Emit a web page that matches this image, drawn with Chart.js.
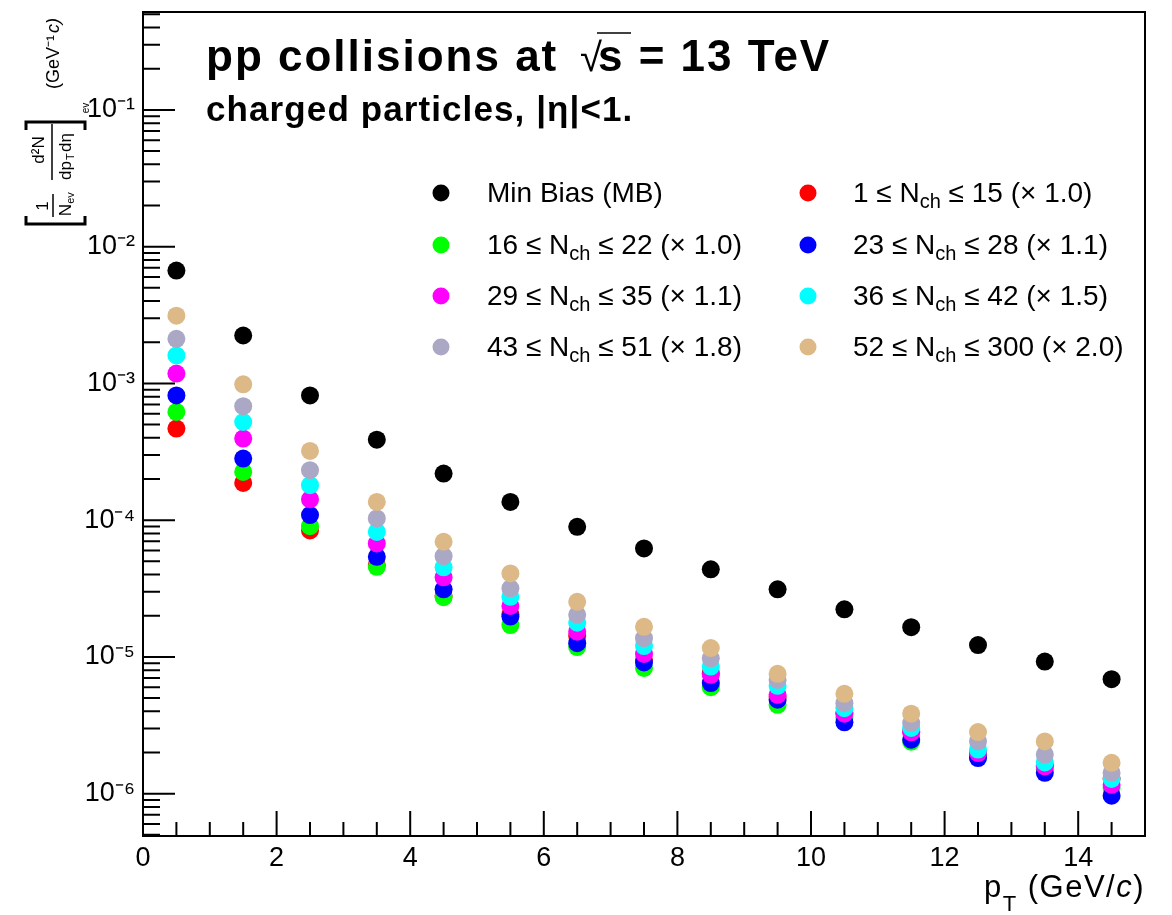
<!DOCTYPE html>
<html>
<head>
<meta charset="utf-8">
<script src="https://cdn.jsdelivr.net/npm/chart.js@4.4.1/dist/chart.umd.min.js"></script>
<style>
  html, body { margin: 0; padding: 0; background: #fff; }
  #wrap { width: 1172px; height: 915px; }
</style>
</head>
<body>
<div id="wrap"><canvas id="spectra" width="1172" height="915"></canvas></div>
<script>
// pT bin centres (GeV/c)
const pt = [0.5, 1.5, 2.5, 3.5, 4.5, 5.5, 6.5, 7.5, 8.5, 9.5, 10.5, 11.5, 12.5, 13.5, 14.5];

// yields (already multiplied by the scale factor in the legend)
const minBias = [6.68e-3, 2.24e-3, 8.17e-4, 3.88e-4, 2.19e-4, 1.36e-4, 8.93e-5, 6.21e-5, 4.37e-5, 3.12e-5, 2.23e-5, 1.65e-5, 1.22e-5, 9.25e-6, 6.87e-6];
const nch1to15 = [4.67e-4, 1.87e-4, 8.4e-5, 4.7e-5, 2.8e-5, 2.05e-5, 1.42e-5, 9.5e-6, 7.6e-6, 5.1e-6, 3.9e-6, 2.85e-6, 1.9e-6, 1.6e-6, 1.29e-6];
const nch16to22 = [6.18e-4, 2.25e-4, 9.03e-5, 4.56e-5, 2.73e-5, 1.71e-5, 1.18e-5, 8.3e-6, 6.0e-6, 4.46e-6, 3.6e-6, 2.4e-6, 1.85e-6, 1.5e-6, 1.1e-6];
const nch23to28 = [8.17e-4, 2.82e-4, 1.09e-4, 5.39e-5, 3.12e-5, 1.97e-5, 1.26e-5, 9.1e-6, 6.43e-6, 4.86e-6, 3.32e-6, 2.48e-6, 1.82e-6, 1.42e-6, 9.66e-7];
const nch29to35 = [1.18e-3, 3.95e-4, 1.42e-4, 6.76e-5, 3.82e-5, 2.36e-5, 1.53e-5, 1.05e-5, 7.39e-6, 5.28e-6, 3.84e-6, 2.81e-6, 1.98e-6, 1.58e-6, 1.16e-6];
const nch36to42 = [1.60e-3, 5.22e-4, 1.80e-4, 8.2e-5, 4.52e-5, 2.75e-5, 1.78e-5, 1.20e-5, 8.49e-6, 6.14e-6, 4.22e-6, 3.02e-6, 2.10e-6, 1.69e-6, 1.28e-6];
const nch43to51 = [2.12e-3, 6.82e-4, 2.32e-4, 1.03e-4, 5.45e-5, 3.17e-5, 2.03e-5, 1.37e-5, 9.77e-6, 6.79e-6, 4.59e-6, 3.28e-6, 2.41e-6, 1.93e-6, 1.42e-6];
const nch52to300 = [3.13e-3, 9.84e-4, 3.21e-4, 1.36e-4, 6.95e-5, 4.08e-5, 2.53e-5, 1.66e-5, 1.16e-5, 7.52e-6, 5.37e-6, 3.84e-6, 2.82e-6, 2.41e-6, 1.68e-6];

const seriesLabels = [
    'Min Bias (MB)',
    '1 ≤ N_{ch} ≤ 15 (× 1.0)',
    '16 ≤ N_{ch} ≤ 22 (× 1.0)',
    '23 ≤ N_{ch} ≤ 28 (× 1.1)',
    '29 ≤ N_{ch} ≤ 35 (× 1.1)',
    '36 ≤ N_{ch} ≤ 42 (× 1.5)',
    '43 ≤ N_{ch} ≤ 51 (× 1.8)',
    '52 ≤ N_{ch} ≤ 300 (× 2.0)'
];
const seriesValues = [minBias, nch1to15, nch16to22, nch23to28, nch29to35, nch36to42, nch43to51, nch52to300];
const seriesColors = ['#000000', '#ff0000', '#00ff00', '#0000ff', '#ff00ff', '#00ffff', '#aaa8c4', '#dcb986'];
// draw order: black on top, then tan, gray, cyan ... red at the bottom
const seriesOrder = [0, 7, 6, 5, 4, 3, 2, 1];

// axis ranges / ticks
const xMin = 0, xMax = 15, xStep = 0.5;
const yMin = 4.9e-7, yMax = 0.52;
const decades = [-7, -6, -5, -4, -3, -2, -1];

const FONT = '"Liberation Sans", Arial, Helvetica, sans-serif';
const SUP = { '-': '⁻', '0': '⁰', '1': '¹', '2': '²', '3': '³', '4': '⁴', '5': '⁵', '6': '⁶', '7': '⁷', '8': '⁸', '9': '⁹' };
const toSup = s => String(s).split('').map(c => SUP[c] || c).join('');

// text with _{sub} parts
function richText(ctx, str, x, y, size) {
    const parts = str.split(/(_\{[^}]*\})/).filter(p => p.length);
    let cx = x;
    parts.forEach(p => {
        if (p.startsWith('_{')) {
            const t = p.slice(2, -1);
            ctx.font = `${Math.round(size * 0.72)}px ${FONT}`;
            ctx.fillText(t, cx, y + size * 0.3);
            cx += ctx.measureText(t).width;
        } else {
            ctx.font = `${size}px ${FONT}`;
            ctx.fillText(p, cx, y);
            cx += ctx.measureText(p).width;
        }
    });
    return cx - x;
}

const rootStyle = {
    id: 'rootStyle',
    beforeDraw(chart) {
        const ctx = chart.ctx;
        ctx.save();
        ctx.fillStyle = '#ffffff';
        ctx.fillRect(0, 0, chart.width, chart.height);
        ctx.restore();
    },
    afterDraw(chart) {
        const ctx = chart.ctx;
        const a = chart.chartArea;
        const xs = chart.scales.x, ys = chart.scales.y;
        ctx.save();
        ctx.strokeStyle = '#000';
        ctx.fillStyle = '#000';
        ctx.lineWidth = 2;

        // frame
        ctx.strokeRect(a.left, a.top, a.right - a.left, a.bottom - a.top);

        // inward ticks
        ctx.beginPath();
        xs.ticks.forEach(t => {
            const px = xs.getPixelForValue(t.value);
            const len = (t.value % 2 === 0) ? 25 : 14;
            ctx.moveTo(px, a.bottom);
            ctx.lineTo(px, a.bottom - len);
        });
        ys.ticks.forEach(t => {
            const py = ys.getPixelForValue(t.value);
            const len = t.major ? 32 : 17;
            ctx.moveTo(a.left, py);
            ctx.lineTo(a.left + len, py);
        });
        ctx.stroke();

        // title
        ctx.textBaseline = 'alphabetic';
        ctx.textAlign = 'left';
        ctx.letterSpacing = '2px';
        ctx.font = `bold 44px ${FONT}`;
        ctx.fillText('pp collisions at', 206, 71);
        ctx.letterSpacing = '0px';
        ctx.font = `40px ${FONT}`;
        ctx.fillText('√', 580, 71);
        ctx.letterSpacing = '2px';
        ctx.font = `bold 44px ${FONT}`;
        ctx.fillText('s = 13 TeV', 598, 71);
        ctx.beginPath();
        ctx.lineWidth = 1.5;
        ctx.moveTo(597, 33);
        ctx.lineTo(631, 33);
        ctx.stroke();

        ctx.letterSpacing = '1.1px';
        ctx.font = `bold 35px ${FONT}`;
        ctx.fillText('charged particles, |η|<1.', 206, 121);
        ctx.letterSpacing = '0px';

        // legend, two columns
        const colMarker = [441, 808], colText = [487, 853];
        const rowY = [193, 245, 296, 347];
        ctx.textBaseline = 'middle';
        seriesLabels.forEach((lab, i) => {
            const col = i % 2, row = Math.floor(i / 2);
            ctx.fillStyle = seriesColors[i];
            ctx.beginPath();
            ctx.arc(colMarker[col], rowY[row], 8.5, 0, Math.PI * 2);
            ctx.fill();
            ctx.fillStyle = '#000';
            richText(ctx, lab, colText[col], rowY[row] + 1, 28);
        });

        // x title, right aligned with frame
        ctx.textBaseline = 'alphabetic';
        ctx.letterSpacing = '1.5px';
        const big = `31px ${FONT}`, small = `22px ${FONT}`, ital = `italic 31px ${FONT}`;
        const pieces = [['p', big, 0], ['T', small, 14], [' (GeV/', big, 0], ['c', ital, 0], [')', big, 0]];
        let total = 0;
        pieces.forEach(p => { ctx.font = p[1]; total += ctx.measureText(p[0]).width; });
        let x0 = a.right - total;
        pieces.forEach(p => {
            ctx.font = p[1];
            ctx.fillText(p[0], x0, 897 + p[2]);
            x0 += ctx.measureText(p[0]).width;
        });
        ctx.letterSpacing = '0px';

        // y title, rotated (reads bottom to top)
        ctx.save();
        ctx.rotate(-Math.PI / 2);
        ctx.textAlign = 'center';
        ctx.textBaseline = 'middle';
        const rt = (s, sx, sy, f) => { ctx.font = f; ctx.fillText(s, -sy, sx); };
        // brackets
        ctx.lineWidth = 3;
        ctx.beginPath();
        ctx.moveTo(-216, 26); ctx.lineTo(-224, 26); ctx.lineTo(-224, 85); ctx.lineTo(-216, 85);
        ctx.moveTo(-130, 26); ctx.lineTo(-122, 26); ctx.lineTo(-122, 85); ctx.lineTo(-130, 85);
        ctx.stroke();
        // 1 / N_ev
        rt('1', 43, 206, `17px ${FONT}`);
        ctx.lineWidth = 1.5;
        ctx.beginPath();
        ctx.moveTo(-194, 53); ctx.lineTo(-217, 53);
        ctx.stroke();
        rt('N', 66, 210, `17px ${FONT}`);
        rt('ev', 71, 198, `11px ${FONT}`);
        // d2N / dpT deta
        rt('d²N', 39, 150, `17px ${FONT}`);
        ctx.beginPath();
        ctx.moveTo(-124, 52); ctx.lineTo(-180, 52);
        ctx.stroke();
        ctx.textAlign = 'left';
        rt('dp', 66, 180, `17px ${FONT}`);
        rt('T', 71, 160, `11px ${FONT}`);
        rt('dη', 66, 152, `17px ${FONT}`);
        ctx.textAlign = 'center';
        rt('ev', 86, 108, `10px ${FONT}`);
        rt('(GeV⁻¹', 54, 62, `18px ${FONT}`);
        ctx.textAlign = 'left';
        rt('c)', 54, 33, `italic 18px ${FONT}`);
        ctx.restore();

        ctx.restore();
    }
};

const datasets = seriesValues.map((vals, i) => ({
    label: seriesLabels[i].replace(/_\{([^}]*)\}/g, '$1'),
    data: pt.map((x, j) => ({ x: x, y: vals[j] })),
    backgroundColor: seriesColors[i],
    borderColor: seriesColors[i],
    borderWidth: 0,
    pointRadius: 9,
    pointStyle: 'circle',
    showLine: false,
    order: seriesOrder[i]
}));

new Chart(document.getElementById('spectra').getContext('2d'), {
    type: 'scatter',
    data: { datasets: datasets },
    options: {
        responsive: false,
        animation: false,
        devicePixelRatio: 1,
        layout: { padding: { top: 12, right: 27, left: 0, bottom: 0 } },
        plugins: {
            legend: { display: false },
            tooltip: { enabled: false }
        },
        scales: {
            x: {
                type: 'linear',
                min: xMin,
                max: xMax,
                afterBuildTicks: scale => {
                    const ticks = [];
                    for (let v = xMin; v <= xMax + 1e-9; v += xStep) ticks.push({ value: v });
                    scale.ticks = ticks;
                },
                afterFit: scale => {
                    scale.height = 79;
                    scale.paddingLeft = 0;
                    scale.paddingRight = 0;
                },
                ticks: {
                    autoSkip: false,
                    maxRotation: 0,
                    padding: 6,
                    color: '#000',
                    font: { family: FONT, size: 27 },
                    callback: v => (v % 2 === 0 && v < xMax) ? String(v) : ''
                },
                grid: { display: false, drawTicks: false },
                border: { display: false }
            },
            y: {
                type: 'logarithmic',
                min: yMin,
                max: yMax,
                afterBuildTicks: scale => {
                    const ticks = [];
                    decades.forEach(e => {
                        for (let k = 1; k <= 9; k++) {
                            const v = k * Math.pow(10, e);
                            if (v >= yMin && v <= yMax) ticks.push({ value: v, major: k === 1 });
                        }
                    });
                    scale.ticks = ticks;
                },
                afterFit: scale => {
                    scale.width = 143;
                    scale.paddingTop = 0;
                    scale.paddingBottom = 0;
                },
                ticks: {
                    autoSkip: false,
                    padding: 8,
                    color: '#000',
                    font: { family: FONT, size: 27 },
                    callback: v => {
                        const e = Math.log10(v);
                        return Math.abs(e - Math.round(e)) < 1e-6 ? '10' + toSup(Math.round(e)) : '';
                    }
                },
                grid: { display: false, drawTicks: false },
                border: { display: false }
            }
        }
    },
    plugins: [rootStyle]
});
</script>
</body>
</html>
